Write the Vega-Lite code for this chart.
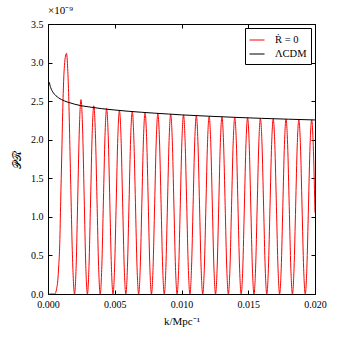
{
  "$schema": "https://vega.github.io/schema/vega-lite/v6.json",
  "width": 267,
  "height": 270,
  "autosize": {"type": "none"},
  "padding": {"left": 48, "top": 24, "right": 25, "bottom": 46},
  "background": "white",
  "config": {
    "view": {"stroke": null},
    "font": "Liberation Serif",
    "axis": {
      "labelFont": "Liberation Serif",
      "labelFontSize": 10,
      "labelColor": "black",
      "titleFont": "Liberation Serif",
      "titleFontWeight": "normal",
      "titleColor": "black",
      "titleFontSize": 11,
      "domainColor": "black",
      "domainWidth": 1,
      "tickColor": "black",
      "tickWidth": 1,
      "tickSize": -4,
      "labelPadding": 9,
      "offset": 0,
      "grid": false,
      "zindex": 1
    },
    "legend": {
      "labelFont": "Liberation Serif",
      "labelFontSize": 10.5,
      "labelColor": "black",
      "strokeColor": "black",
      "fillColor": "white",
      "padding": 4,
      "cornerRadius": 0,
      "symbolType": "stroke",
      "symbolSize": 225,
      "symbolStrokeWidth": 1,
      "labelOffset": 10,
      "rowPadding": 0
    }
  },
  "title": {
    "text": "×10⁻⁹",
    "anchor": "start",
    "frame": "group",
    "font": "Liberation Serif",
    "fontSize": 11,
    "fontWeight": "normal",
    "color": "black",
    "offset": 3
  },
  "datasets": {
    "red": [
      {"k": 0.0001, "p": 0}, {"k": 0.0003, "p": 0}, {"k": 0.0005, "p": 0},
      {"k": 0.00058, "p": 0.02}, {"k": 0.00065, "p": 0.07}, {"k": 0.00073, "p": 0.17},
      {"k": 0.0008, "p": 0.35}, {"k": 0.00088, "p": 0.65}, {"k": 0.00095, "p": 1.2},
      {"k": 0.00103, "p": 1.8}, {"k": 0.0011, "p": 2.35}, {"k": 0.00118, "p": 2.8},
      {"k": 0.00125, "p": 3.0}, {"k": 0.00133, "p": 3.1}, {"k": 0.00138, "p": 3.12},
      {"k": 0.001533, "p": 2.663}, {"k": 0.001685, "p": 1.56}, {"k": 0.001838, "p": 0.457},
      {"k": 0.00199, "p": 0}, {"k": 0.00211, "p": 0.369}, {"k": 0.00223, "p": 1.26}, {"k": 0.00235, "p": 2.151},
      {"k": 0.00247, "p": 2.52}, {"k": 0.00259, "p": 2.151}, {"k": 0.00271, "p": 1.26}, {"k": 0.00283, "p": 0.369},
      {"k": 0.00295, "p": 0}, {"k": 0.00307, "p": 0.357}, {"k": 0.00319, "p": 1.22}, {"k": 0.00331, "p": 2.083},
      {"k": 0.00343, "p": 2.44}, {"k": 0.00355, "p": 2.083}, {"k": 0.00367, "p": 1.22}, {"k": 0.00379, "p": 0.357},
      {"k": 0.00391, "p": 0}, {"k": 0.00403, "p": 0.352}, {"k": 0.00415, "p": 1.203}, {"k": 0.00427, "p": 2.053},
      {"k": 0.00439, "p": 2.405}, {"k": 0.00451, "p": 2.053}, {"k": 0.00463, "p": 1.203}, {"k": 0.00475, "p": 0.352},
      {"k": 0.00487, "p": 0}, {"k": 0.00499, "p": 0.348}, {"k": 0.00511, "p": 1.19}, {"k": 0.00523, "p": 2.031},
      {"k": 0.00535, "p": 2.379}, {"k": 0.00547, "p": 2.031}, {"k": 0.00559, "p": 1.19}, {"k": 0.00571, "p": 0.348},
      {"k": 0.00583, "p": 0}, {"k": 0.00595, "p": 0.346}, {"k": 0.00607, "p": 1.183}, {"k": 0.00619, "p": 2.019},
      {"k": 0.00631, "p": 2.365}, {"k": 0.00643, "p": 2.019}, {"k": 0.00655, "p": 1.183}, {"k": 0.00667, "p": 0.346},
      {"k": 0.00679, "p": 0}, {"k": 0.00691, "p": 0.345}, {"k": 0.00703, "p": 1.177}, {"k": 0.00715, "p": 2.008},
      {"k": 0.00727, "p": 2.353}, {"k": 0.00739, "p": 2.008}, {"k": 0.00751, "p": 1.177}, {"k": 0.00763, "p": 0.345},
      {"k": 0.00775, "p": 0}, {"k": 0.00787, "p": 0.343}, {"k": 0.00799, "p": 1.171}, {"k": 0.00811, "p": 1.998},
      {"k": 0.00823, "p": 2.341}, {"k": 0.00835, "p": 1.998}, {"k": 0.00847, "p": 1.171}, {"k": 0.00859, "p": 0.343},
      {"k": 0.00871, "p": 0}, {"k": 0.00883, "p": 0.341}, {"k": 0.00895, "p": 1.166}, {"k": 0.00907, "p": 1.99},
      {"k": 0.00919, "p": 2.331}, {"k": 0.00931, "p": 1.99}, {"k": 0.00943, "p": 1.166}, {"k": 0.00955, "p": 0.341},
      {"k": 0.00967, "p": 0}, {"k": 0.00979, "p": 0.34}, {"k": 0.00991, "p": 1.161}, {"k": 0.01003, "p": 1.981},
      {"k": 0.01015, "p": 2.321}, {"k": 0.01027, "p": 1.981}, {"k": 0.01039, "p": 1.161}, {"k": 0.01051, "p": 0.34},
      {"k": 0.01063, "p": 0}, {"k": 0.01075, "p": 0.339}, {"k": 0.01087, "p": 1.156}, {"k": 0.01099, "p": 1.973},
      {"k": 0.01111, "p": 2.312}, {"k": 0.01123, "p": 1.973}, {"k": 0.01135, "p": 1.156}, {"k": 0.01147, "p": 0.339},
      {"k": 0.01159, "p": 0}, {"k": 0.01171, "p": 0.337}, {"k": 0.01183, "p": 1.152}, {"k": 0.01195, "p": 1.967},
      {"k": 0.01207, "p": 2.304}, {"k": 0.01219, "p": 1.967}, {"k": 0.01231, "p": 1.152}, {"k": 0.01243, "p": 0.337},
      {"k": 0.01255, "p": 0}, {"k": 0.01267, "p": 0.336}, {"k": 0.01279, "p": 1.149}, {"k": 0.01291, "p": 1.961},
      {"k": 0.01303, "p": 2.297}, {"k": 0.01315, "p": 1.961}, {"k": 0.01327, "p": 1.149}, {"k": 0.01339, "p": 0.336},
      {"k": 0.01351, "p": 0}, {"k": 0.01363, "p": 0.335}, {"k": 0.01375, "p": 1.145}, {"k": 0.01387, "p": 1.955},
      {"k": 0.01399, "p": 2.29}, {"k": 0.01411, "p": 1.955}, {"k": 0.01423, "p": 1.145}, {"k": 0.01435, "p": 0.335},
      {"k": 0.01447, "p": 0}, {"k": 0.01459, "p": 0.334}, {"k": 0.01471, "p": 1.142}, {"k": 0.01483, "p": 1.95},
      {"k": 0.01495, "p": 2.284}, {"k": 0.01507, "p": 1.95}, {"k": 0.01519, "p": 1.142}, {"k": 0.01531, "p": 0.334},
      {"k": 0.01543, "p": 0}, {"k": 0.01555, "p": 0.333}, {"k": 0.01567, "p": 1.139}, {"k": 0.01579, "p": 1.944},
      {"k": 0.01591, "p": 2.278}, {"k": 0.01603, "p": 1.944}, {"k": 0.01615, "p": 1.139}, {"k": 0.01627, "p": 0.333},
      {"k": 0.01639, "p": 0}, {"k": 0.01651, "p": 0.333}, {"k": 0.01663, "p": 1.136}, {"k": 0.01675, "p": 1.938},
      {"k": 0.01687, "p": 2.271}, {"k": 0.01699, "p": 1.938}, {"k": 0.01711, "p": 1.136}, {"k": 0.01723, "p": 0.333},
      {"k": 0.01735, "p": 0}, {"k": 0.01747, "p": 0.332}, {"k": 0.01759, "p": 1.134}, {"k": 0.01771, "p": 1.935},
      {"k": 0.01783, "p": 2.267}, {"k": 0.01795, "p": 1.935}, {"k": 0.01807, "p": 1.134}, {"k": 0.01819, "p": 0.332},
      {"k": 0.01831, "p": 0}, {"k": 0.01843, "p": 0.331}, {"k": 0.01855, "p": 1.131}, {"k": 0.01867, "p": 1.93},
      {"k": 0.01879, "p": 2.261}, {"k": 0.01891, "p": 1.93}, {"k": 0.01903, "p": 1.131}, {"k": 0.01915, "p": 0.331},
      {"k": 0.01927, "p": 0}, {"k": 0.01939, "p": 0.331}, {"k": 0.01951, "p": 1.129}, {"k": 0.01963, "p": 1.926},
      {"k": 0.01975, "p": 2.257}, {"k": 0.01987, "p": 1.926}, {"k": 0.01999, "p": 1.129}, {"k": 0.02, "p": 1.054}
    ],
    "lcdm": [
      {"k": 0.0001, "p": 2.745}, {"k": 0.00015, "p": 2.705}, {"k": 0.0002, "p": 2.676},
      {"k": 0.0003, "p": 2.636}, {"k": 0.0004, "p": 2.608}, {"k": 0.0006, "p": 2.569},
      {"k": 0.0008, "p": 2.542}, {"k": 0.001, "p": 2.521}, {"k": 0.0015, "p": 2.486},
      {"k": 0.002, "p": 2.46}, {"k": 0.0025, "p": 2.44}, {"k": 0.003, "p": 2.427},
      {"k": 0.004, "p": 2.403}, {"k": 0.005, "p": 2.385}, {"k": 0.006, "p": 2.369},
      {"k": 0.007, "p": 2.356}, {"k": 0.008, "p": 2.344}, {"k": 0.009, "p": 2.333},
      {"k": 0.01, "p": 2.322}, {"k": 0.012, "p": 2.305}, {"k": 0.014, "p": 2.29},
      {"k": 0.016, "p": 2.277}, {"k": 0.018, "p": 2.266}, {"k": 0.02, "p": 2.256}
    ]
  },
  "layer": [
    {
      "data": {"name": "red"},
      "mark": {"type": "line", "interpolate": "monotone", "strokeWidth": 1, "clip": true},
      "encoding": {
        "x": {
          "field": "k", "type": "quantitative",
          "scale": {"domain": [0, 0.02], "nice": false, "zero": false},
          "axis": {"orient": "bottom", "values": [0, 0.005, 0.01, 0.015, 0.02], "format": ".3f", "labelFlush": false, "title": "k/Mpc⁻¹", "titlePadding": 6}
        },
        "y": {
          "field": "p", "type": "quantitative",
          "scale": {"domain": [0, 3.5], "nice": false},
          "axis": {"orient": "left", "values": [0, 0.5, 1, 1.5, 2, 2.5, 3, 3.5], "format": ".1f", "labelFlush": false, "title": "𝒫ℛ", "titlePadding": 8}
        },
        "color": {
          "datum": "Ṙ = 0",
          "scale": {"domain": ["Ṙ = 0", "ΛCDM"], "range": ["#ff0000", "#000000"]},
          "legend": {"title": null, "orient": "top-right", "offset": 4}
        }
      }
    },
    {
      "data": {"name": "lcdm"},
      "mark": {"type": "line", "interpolate": "monotone", "strokeWidth": 1, "clip": true},
      "encoding": {
        "x": {
          "field": "k", "type": "quantitative",
          "axis": {"orient": "top", "values": [0, 0.005, 0.01, 0.015, 0.02], "labels": false, "title": null}
        },
        "y": {
          "field": "p", "type": "quantitative",
          "axis": {"orient": "right", "values": [0, 0.5, 1, 1.5, 2, 2.5, 3, 3.5], "labels": false, "title": null}
        },
        "color": {"datum": "ΛCDM"}
      }
    }
  ],
  "resolve": {"axis": {"x": "independent", "y": "independent"}}
}
